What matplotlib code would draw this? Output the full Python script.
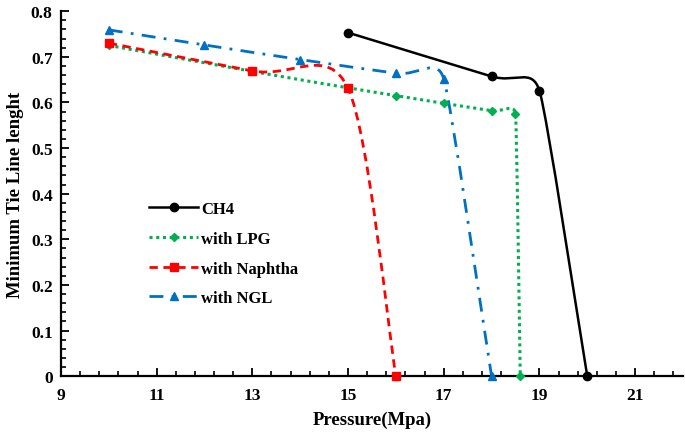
import matplotlib
matplotlib.use("Agg")
import matplotlib.pyplot as plt
from matplotlib.path import Path
from matplotlib.patches import PathPatch
from matplotlib.lines import Line2D
import numpy as np

plt.rcParams['font.family'] = ['Liberation Serif', 'DejaVu Serif']
plt.rcParams['font.weight'] = 'bold'

# Data
ch4_x = [15, 18, 19, 20]
ch4_y = [0.753, 0.657, 0.626, 0.0]
lpg_x = [10, 13, 15, 16, 17, 18, 18.5, 18.6]
lpg_y = [0.725, 0.668, 0.632, 0.615, 0.598, 0.582, 0.574, 0.0]
nap_x = [10, 13, 15, 16]
nap_y = [0.730, 0.669, 0.631, 0.0]
ngl_x = [10, 12, 14, 16, 17, 18]
ngl_y = [0.759, 0.726, 0.694, 0.664, 0.652, 0.0]

labels = ["CH4", "with LPG", "with Naphtha", "with NGL"]
x_ticks = [9, 11, 13, 15, 17, 19, 21]
y_ticks = [0, 0.1, 0.2, 0.3, 0.4, 0.5, 0.6, 0.7, 0.8]
y_ticklabels = ["0", "0.1", "0.2", "0.3", "0.4", "0.5", "0.6", "0.7", "0.8"]

X_MIN, X_MAX, Y_MIN, Y_MAX = 9, 22, 0, 0.8


def smooth_path(xs, ys, sx, sy):
    """Excel-style smoothed line: Bezier segments, computed in screen space."""
    p = np.column_stack([np.asarray(xs, float) * sx, np.asarray(ys, float) * sy])
    n = len(p)

    def ctrl(prev, cur, nxt, seg_len):
        t = nxt - prev
        L = np.hypot(*t)
        if L == 0:
            return np.zeros(2)
        d = L / 6.0
        d = min(d, seg_len / 2.0)
        return t / L * d

    verts = [p[0]]
    codes = [Path.MOVETO]
    for i in range(n - 1):
        p1, p2 = p[i], p[i + 1]
        seg = np.hypot(*(p2 - p1))
        p0 = p[i - 1] if i > 0 else p1
        p3 = p[i + 2] if i + 2 < n else p2
        lim1 = seg if i == 0 else min(seg, np.hypot(*(p1 - p0)))
        lim2 = seg if i + 2 >= n else min(seg, np.hypot(*(p3 - p2)))
        c1 = p1 + ctrl(p0, p1, p2, lim1)
        c2 = p2 - ctrl(p1, p2, p3, lim2)
        verts += [c1, c2, p2]
        codes += [Path.CURVE4] * 3
    v = np.array(verts)
    v[:, 0] /= sx
    v[:, 1] /= sy
    return Path(v, codes)


fig = plt.figure(figsize=(6.85, 4.35), dpi=100)
ax = fig.add_axes([0.089, 0.133, 0.908, 0.839])
ax.set_xlim(X_MIN, X_MAX)
ax.set_ylim(Y_MIN, Y_MAX)

bbox = ax.get_window_extent()
sx = bbox.width / (X_MAX - X_MIN)
sy = bbox.height / (Y_MAX - Y_MIN)

series = [
    (ch4_x, ch4_y, 'black', '-', 'o', 6.0, 1.8),
    (lpg_x, lpg_y, '#00B050', (0, (1, 1.2)), 'D', 4.2, 2.2),
    (nap_x, nap_y, '#FF0000', (0, (3, 2)), 's', 6.0, 2.0),
    (ngl_x, ngl_y, '#0070C0', (0, (5, 3, 1, 3)), '^', 6.0, 2.0),
]

handles = []
for (xs, ys, c, ls, mk, ms, lw) in series:
    patch = PathPatch(smooth_path(xs, ys, sx, sy), fill=False, edgecolor=c,
                      linewidth=lw, linestyle=ls, capstyle='butt', zorder=2)
    ax.add_patch(patch)
    ax.plot(xs, ys, linestyle='none', marker=mk, markersize=ms, color=c,
            zorder=3, clip_on=False)
    handles.append(Line2D([], [], color=c, linestyle=ls, linewidth=lw,
                          marker=mk, markersize=ms))

ax.set_xticks(x_ticks)
ax.set_yticks(y_ticks)
ax.set_yticklabels(y_ticklabels)
ax.set_xticks(np.arange(9, 22.01, 0.4), minor=True)
ax.set_yticks(np.arange(0, 0.801, 0.02), minor=True)
ax.tick_params(axis='both', which='major', direction='in', length=6, width=1.3,
               labelsize=12.5)
ax.tick_params(axis='x', which='major', pad=8)
ax.tick_params(axis='y', which='major', pad=6)
ax.tick_params(axis='both', which='minor', direction='in', length=3.5, width=1.2)
ax.tick_params(axis='y', which='both', right=False)
ax.tick_params(axis='x', which='both', top=False)
for s in ['top', 'right']:
    ax.spines[s].set_visible(False)
for s in ['left', 'bottom']:
    ax.spines[s].set_linewidth(1.6)

ax.set_xlabel("Pressure(Mpa)", fontsize=13.5, fontweight='bold', labelpad=5)
ax.set_ylabel("Minimum Tie Line lenght", fontsize=13.5, fontweight='bold', labelpad=5)

leg = fig.legend(handles, labels, loc='upper left', bbox_to_anchor=(0.201, 0.562),
                 frameon=False, fontsize=12, handlelength=2.9, handletextpad=0.2,
                 labelspacing=0.82, borderpad=0.2)
for t in leg.get_texts():
    t.set_fontweight('bold')

fig.savefig("out.png", dpi=100)
